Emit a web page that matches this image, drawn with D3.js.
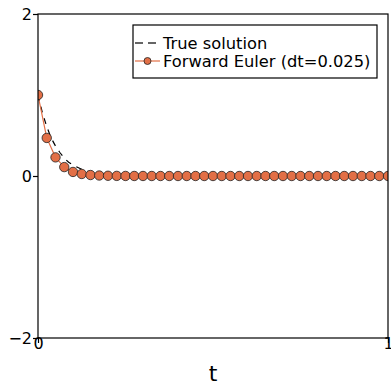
<!DOCTYPE html>
<html>
<head>
<meta charset="utf-8">
<script src="https://cdn.jsdelivr.net/npm/d3@7"></script>
<style>
  body { margin: 0; background: #fff; }
  svg { display: block; font-family: "DejaVu Sans", sans-serif; }
</style>
</head>
<body>
<script>
// forward euler points, t = 0 .. 1 step 0.025
let eulerT = [0, 0.025, 0.05, 0.075, 0.1, 0.125, 0.15, 0.175, 0.2, 0.225,
    0.25, 0.275, 0.3, 0.325, 0.35, 0.375, 0.4, 0.425, 0.45, 0.475,
    0.5, 0.525, 0.55, 0.575, 0.6, 0.625, 0.65, 0.675, 0.7, 0.725,
    0.75, 0.775, 0.8, 0.825, 0.85, 0.875, 0.9, 0.925, 0.95, 0.975, 1];
let eulerY = [1, 0.47, 0.23, 0.11, 0.05, 0.025, 0.012, 0.006, 0.003, 0.0014,
    0.0007, 0.0003, 0.0002, 0.0001, 0, 0, 0, 0, 0, 0,
    0, 0, 0, 0, 0, 0, 0, 0, 0, 0,
    0, 0, 0, 0, 0, 0, 0, 0, 0, 0, 0];

// true solution
let trueT = [0, 0.0125, 0.025, 0.0375, 0.05, 0.0625, 0.075, 0.0875, 0.1, 0.125, 0.15, 0.175, 0.2, 0.25, 0.3, 0.4, 0.6, 1];
let trueY = [1, 0.78, 0.61, 0.47, 0.37, 0.29, 0.22, 0.17, 0.135, 0.082, 0.05, 0.03, 0.018, 0.007, 0.0025, 0.0003, 0, 0];

let xTicks = [0, 1];
let yTicks = [-2, 0, 2];

let width = 391;
let height = 383;
let pLeft = 38, pRight = 388, pTop = 14, pBottom = 338;

let x = d3.scaleLinear().domain([0, 1]).range([pLeft, pRight]);
let y = d3.scaleLinear().domain([-2, 2]).range([pBottom, pTop]);

let svg = d3.select('body').append('svg')
    .attr('width', width)
    .attr('height', height);

let defs = svg.append('defs');
defs.append('clipPath').attr('id', 'clip')
    .append('rect')
    .attr('x', pLeft).attr('y', pTop)
    .attr('width', pRight - pLeft).attr('height', pBottom - pTop);

let plot = svg.append('g').attr('clip-path', 'url(#clip)');

// true solution
plot.append('path')
    .datum(trueT.map((t, i) => [t, trueY[i]]))
    .attr('fill', 'none')
    .attr('stroke', '#000')
    .attr('stroke-width', 1.2)
    .attr('stroke-dasharray', '6,6')
    .attr('d', d3.line().x(d => x(d[0])).y(d => y(d[1])));

let euler = eulerT.map((t, i) => [t, eulerY[i]]);

plot.append('path')
    .datum(euler)
    .attr('fill', 'none')
    .attr('stroke', '#e26f46')
    .attr('stroke-width', 1.2)
    .attr('d', d3.line().x(d => x(d[0])).y(d => y(d[1])));

plot.selectAll('circle')
    .data(euler)
    .enter()
        .append('circle')
        .attr('cx', d => x(d[0]))
        .attr('cy', d => y(d[1]))
        .attr('r', 4.7)
        .attr('fill', '#e26f46')
        .attr('stroke', '#222')
        .attr('stroke-width', 0.8);

// frame
svg.append('rect')
    .attr('x', pLeft).attr('y', pTop)
    .attr('width', pRight - pLeft).attr('height', pBottom - pTop)
    .attr('fill', 'none')
    .attr('stroke', '#000')
    .attr('stroke-width', 1.2);

let xAxis = d3.axisBottom(x).tickValues(xTicks).tickFormat(d3.format('d')).tickSizeOuter(0).tickSizeInner(5);
let yAxis = d3.axisLeft(y).tickValues(yTicks).tickFormat(d => d < 0 ? '\u2212' + Math.abs(d) : d).tickSizeOuter(0).tickSizeInner(5);

let gx = svg.append('g')
    .attr('transform', `translate(0, ${pBottom})`)
    .call(xAxis);
gx.select('.domain').remove();
gx.selectAll('text').attr('font-size', 16).attr('font-family', '"DejaVu Sans"').attr('fill', '#000').attr('dy', '0.6em').attr('y', 1);
gx.selectAll('line').attr('stroke', '#000').attr('stroke-width', 1.2);

let gy = svg.append('g')
    .attr('transform', `translate(${pLeft}, 0)`)
    .call(yAxis);
gy.select('.domain').remove();
gy.selectAll('text').attr('font-size', 16).attr('font-family', '"DejaVu Sans"').attr('fill', '#000').attr('x', -6);
gy.selectAll('line').attr('stroke', '#000').attr('stroke-width', 1.2);

svg.append('text')
    .attr('x', (pLeft + pRight) / 2)
    .attr('y', 381)
    .attr('text-anchor', 'middle')
    .attr('font-size', 22)
    .text('t');

// legend
let lg = svg.append('g');
lg.append('rect')
    .attr('x', 133).attr('y', 25)
    .attr('width', 244).attr('height', 53)
    .attr('fill', '#fff')
    .attr('stroke', '#000')
    .attr('stroke-width', 1.2);

lg.append('line')
    .attr('x1', 135).attr('x2', 160)
    .attr('y1', 43).attr('y2', 43)
    .attr('stroke', '#333')
    .attr('stroke-width', 1.4)
    .attr('stroke-dasharray', '8,5');
lg.append('line')
    .attr('x1', 135).attr('x2', 160)
    .attr('y1', 61).attr('y2', 61)
    .attr('stroke', '#e26f46')
    .attr('stroke-width', 1.2);
lg.append('circle')
    .attr('cx', 147.5).attr('cy', 61)
    .attr('r', 3.5)
    .attr('fill', '#e26f46')
    .attr('stroke', '#222')
    .attr('stroke-width', 0.8);

lg.append('text').attr('x', 163).attr('y', 48.8).attr('font-size', 16.3).text('True solution');
lg.append('text').attr('x', 163).attr('y', 66.8).attr('font-size', 16.3).text('Forward Euler (dt=0.025)');
</script>
</body>
</html>
